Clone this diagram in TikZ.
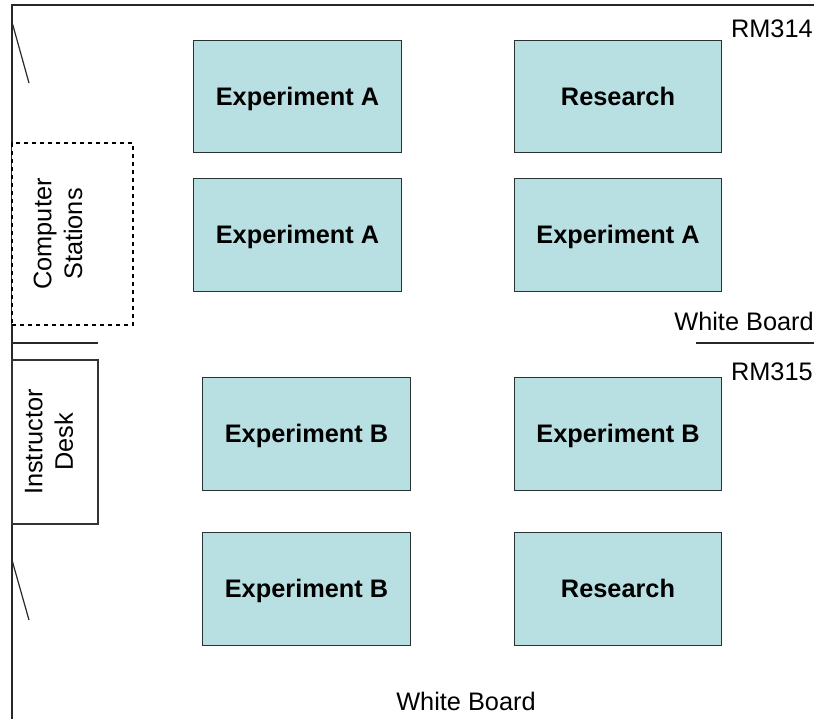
\documentclass[tikz,border=0pt]{standalone}
\usepackage{fontspec}
\setmainfont{Liberation Sans}
\tikzset{
  benchbox/.style={draw={rgb, 255:red, 40; green, 50; blue, 50},fill={rgb, 255:red, 184; green, 224; blue, 227},line width=0.9pt,inner sep=0pt,minimum width=155.5pt,minimum height=84.5pt,text height=13pt,text depth=0pt,font=\fontsize{19}{23}\selectfont\bfseries},
  labeltext/.style={inner sep=0.75pt,font=\fontsize{19}{23}\selectfont},
  wallline/.style={color={rgb, 255:red, 40; green, 40; blue, 40},line width=0.9pt},
}
\begin{document}
\begin{tikzpicture}[x=0.75pt,y=0.75pt,yscale=-1,xscale=1]
    \useasboundingbox (0,0) rectangle (814,719);

    %Straight Lines: walls
    \draw [wallline]  (814,5) -- (12,5) -- (12,719) ;
    %Straight Lines: doors
    \draw [wallline]  (12,22) -- (29,83) ;
    \draw [wallline]  (12,560) -- (29,620) ;
    %Straight Lines: shelf
    \draw [wallline]  (12,343) -- (98,343) ;
    %Straight Lines: white board
    \draw [wallline]  (696,343) -- (814,343) ;

    %Shape: Rectangle
    \node (stations) [draw,dashed,line width=1.1pt,minimum width=90.75pt,minimum height=136.5pt,inner sep=0pt,fill=white] at (72.5,234) {};
    \node (stationstext) [labeltext,rotate=90,align=center] at (58,234) {Computer\\Stations};
    \node (desk) [draw=black!80,line width=0.9pt,fill=white,minimum width=64.5pt,minimum height=123pt,inner sep=0pt] at (55,442) {};
    \node (desktext) [labeltext,rotate=90,align=center] at (49,442) {Instructor\\Desk};

    %Shape: Rectangle
    \node (expAone) [benchbox] at (297.5,96.5) {Experiment A};
    \node (resone) [benchbox] at (618,96.5) {Research};
    \node (expAtwo) [benchbox] at (297.5,235) {Experiment A};
    \node (expAthree) [benchbox] at (618,235) {Experiment A};
    \node (expBone) [benchbox] at (306.5,434) {Experiment B};
    \node (expBtwo) [benchbox] at (618,434) {Experiment B};
    \node (expBthree) [benchbox] at (306.5,589) {Experiment B};
    \node (restwo) [benchbox] at (618,589) {Research};

    % Text Node
    \node (rmfour) [labeltext,anchor=east] at (814,29) {RM314};
    % Text Node
    \node (rmfive) [labeltext,anchor=east] at (814,372) {RM315};
    % Text Node
    \node (boardright) [labeltext,anchor=east] at (815,321) {White Board};
    % Text Node
    \node (boardbottom) [labeltext] at (466,701) {White Board};

\end{tikzpicture}
\end{document}
